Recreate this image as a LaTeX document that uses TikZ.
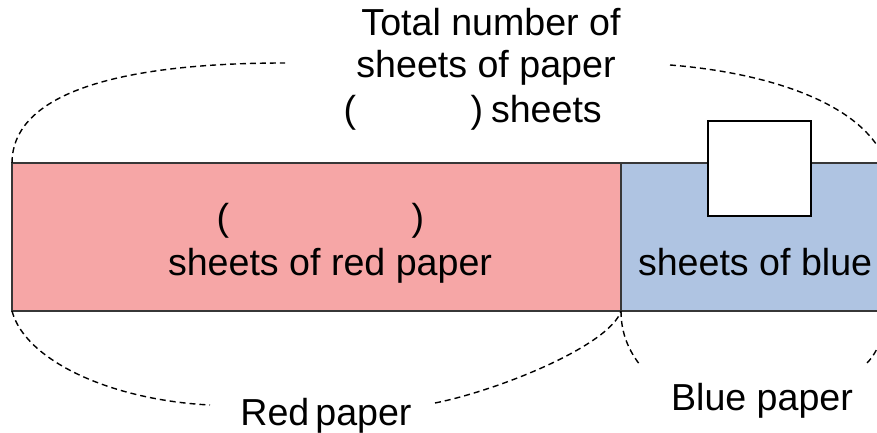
\documentclass[tikz,border=0pt]{standalone}
\usepackage{fontspec}
\setmainfont{Liberation Sans}
\definecolor{redfill}{RGB}{246,166,166}
\definecolor{bluefill}{RGB}{175,196,226}
\definecolor{edgegray}{RGB}{55,55,55}
\begin{document}
\begin{tikzpicture}[x=1pt,y=-1pt,
  lbl/.style={font=\fontsize{37.6}{44}\selectfont, inner sep=0pt, outer sep=0pt},
  brace/.style={draw=black, line width=1.4pt, dash pattern=on 6pt off 4pt},
  bar/.style={draw=edgegray, line width=1.8pt}]
\useasboundingbox (0,0) rectangle (877,433);
\clip (0,0) rectangle (877,433);
% tape corners
\coordinate (tl) at (12,163);
\coordinate (tm) at (621,163);
\coordinate (bl) at (12,311);
\coordinate (bm) at (621,311);
\coordinate (tr) at (890,163);
\coordinate (br) at (890,311);
% tape
\fill[redfill] (tl) rectangle (bm);
\fill[bluefill] (tm) rectangle (br);
\draw[bar] (tr) -- (tl) -- (bl) -- (br);
\draw[bar] (tm) -- (bm);
\draw[draw=black, line width=1.8pt, fill=white] (708,121) rectangle (811,216);
% brace ends
\coordinate (topL) at (285,63);
\coordinate (topR) at (670,65);
\coordinate (topE) at (885,160);
\coordinate (redL) at (210,405);
\coordinate (redR) at (435,403);
\coordinate (blueL) at (640,365);
\coordinate (blueR) at (867,363);
\coordinate (blueE) at (880,342);
% dashed braces
\draw[brace] (tl) .. controls (12,100) and (100,63) .. (topL);
\draw[brace] (topR) .. controls (760,72) and (860,100) .. (topE);
\draw[brace] (bl) .. controls (25,360) and (110,400) .. (redL);
\draw[brace] (redR) .. controls (500,390) and (610,345) .. (bm);
\draw[brace] (bm) .. controls (621,335) and (630,352) .. (blueL);
\draw[brace] (blueR) .. controls (872,358) and (877,350) .. (blueE);
% labels
\node[lbl, anchor=base] (t1) at (491,36) {Total number of};
\node[lbl, anchor=base] (t2) at (486,78) {sheets of paper};
\node[lbl, anchor=base] (t3a) at (350,122) {(};
\node[lbl, anchor=base] (t3b) at (477,122) {)};
\node[lbl, anchor=base west] (t3c) at (491,122) {sheets};
\node[lbl, anchor=base] (r1a) at (223,230) {(};
\node[lbl, anchor=base] (r1b) at (418,230) {)};
\node[lbl, anchor=base] (r2) at (330,275) {sheets of red paper};
\node[lbl, anchor=base west] (b1) at (638,275) {sheets of blue};
\node[lbl, anchor=base] (rp) at (326,425) {Red\hspace{6pt}paper};
\node[lbl, anchor=base] (bp) at (762,410) {Blue paper};
\end{tikzpicture}
\end{document}
